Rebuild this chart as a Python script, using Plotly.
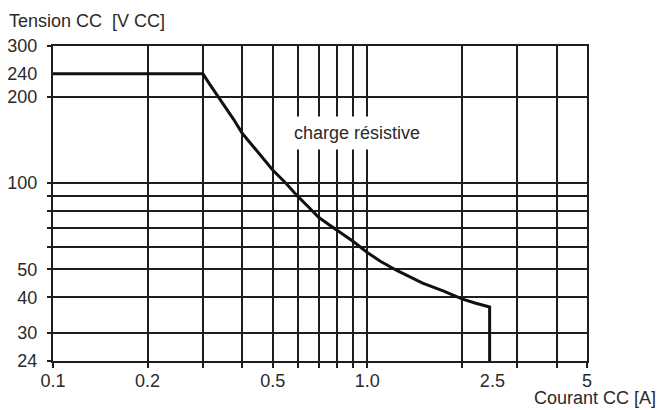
import numpy as np
import plotly.graph_objects as go

# Curve data (current A, voltage V)
current = [0.1, 0.3, 0.315, 0.333, 0.35, 0.375, 0.4, 0.45, 0.5, 0.55, 0.6, 0.65, 0.7, 0.75, 0.8, 0.9, 1.0,
           1.1, 1.25, 1.4, 1.5, 1.75, 2.0, 2.2, 2.45, 2.45]
voltage = [240, 240, 221, 202, 187, 167, 149, 128, 111, 100, 90, 82.5, 76, 72, 68.6, 62.7, 57.3,
           53.4, 49.4, 46.3, 44.8, 42, 39.5, 38.2, 37, 24]

# Axis ticks / grid
x_label_vals = [0.1, 0.2, 0.5, 1.0, 2.5, 5]
x_label_text = ["0.1", "0.2", "0.5", "1.0", "2.5", "5"]
x_grid_vals = [0.1, 0.2, 0.3, 0.4, 0.5, 0.6, 0.7, 0.8, 0.9, 1.0, 2, 3, 4, 5]

y_label_vals = [24, 30, 40, 50, 100, 200, 240, 300]
y_label_text = ["24", "30", "40", "50", "100", "200", "240", "300"]
y_grid_vals = [24, 30, 40, 50, 60, 70, 80, 90, 100, 200, 300]

x_range = [0.1, 5]
y_range = [24, 300]

note_text = "charge résistive"
note_pos = (0.93, 149)

FONT = "Liberation Sans, Arial, sans-serif"
TXT = "#2a2a2a"
GRID = "#1e1e1e"
FS = 18

W, H = 659, 410
pl, pt = 53, 46
pw, ph = 534, 315
pr = W - pl - pw
pb = H - pt - ph

fig = go.Figure()
fig.add_trace(go.Scatter(x=current, y=voltage, mode="lines",
                         line=dict(color="#111111", width=3),
                         hoverinfo="skip", showlegend=False))

def px_to_paper(xp, yp):
    return ((xp - pl) / pw, (pt + ph - yp) / ph)

tx, ty = px_to_paper(7, 21)
cx, cy = px_to_paper(657, 398)

fig.update_layout(
    width=W, height=H,
    margin=dict(l=pl, r=pr, t=pt, b=pb, autoexpand=False),
    paper_bgcolor="white", plot_bgcolor="white",
    font=dict(family=FONT, size=FS, color=TXT),
    showlegend=False,
    xaxis=dict(
        type="log", range=[np.log10(x_range[0]), np.log10(x_range[1])],
        tickmode="array", tickvals=x_label_vals, ticktext=x_label_text,
        ticks="outside", ticklen=2, tickcolor="rgba(0,0,0,0)",
        showgrid=False, showline=True, linecolor=GRID, linewidth=2, mirror=True,
        tickfont=dict(size=FS, color=TXT),
        minor=dict(tickmode="array", tickvals=x_grid_vals, ticks="outside",
                   ticklen=5, tickwidth=2, tickcolor=GRID,
                   showgrid=True, gridcolor=GRID, gridwidth=2),
    ),
    yaxis=dict(
        type="log", range=[np.log10(y_range[0]), np.log10(y_range[1])],
        tickmode="array", tickvals=y_label_vals, ticktext=y_label_text,
        ticks="outside", ticklen=10, tickcolor="rgba(0,0,0,0)",
        showgrid=False, showline=True, linecolor=GRID, linewidth=2, mirror=True,
        tickfont=dict(size=FS, color=TXT),
        minor=dict(tickmode="array", tickvals=y_grid_vals, ticks="outside",
                   ticklen=4, tickwidth=2, tickcolor=GRID,
                   showgrid=True, gridcolor=GRID, gridwidth=2),
    ),
    annotations=[
        dict(text=note_text, x=np.log10(note_pos[0]), y=np.log10(note_pos[1]),
             xref="x", yref="y", showarrow=False, bgcolor="white",
             borderpad=6, font=dict(size=FS, color=TXT)),
        dict(text="Tension CC  [V CC]", x=tx, y=ty, xref="paper", yref="paper",
             showarrow=False, xanchor="left", yanchor="middle",
             font=dict(size=FS, color=TXT)),
        dict(text="Courant CC [A]", x=cx, y=cy, xref="paper", yref="paper",
             showarrow=False, xanchor="right", yanchor="middle",
             borderpad=0, font=dict(size=FS, color=TXT)),
    ],
)

fig.write_html("out.html", config={"displayModeBar": False},
               post_script="document.body.style.margin='0';document.body.style.overflow='hidden';")
